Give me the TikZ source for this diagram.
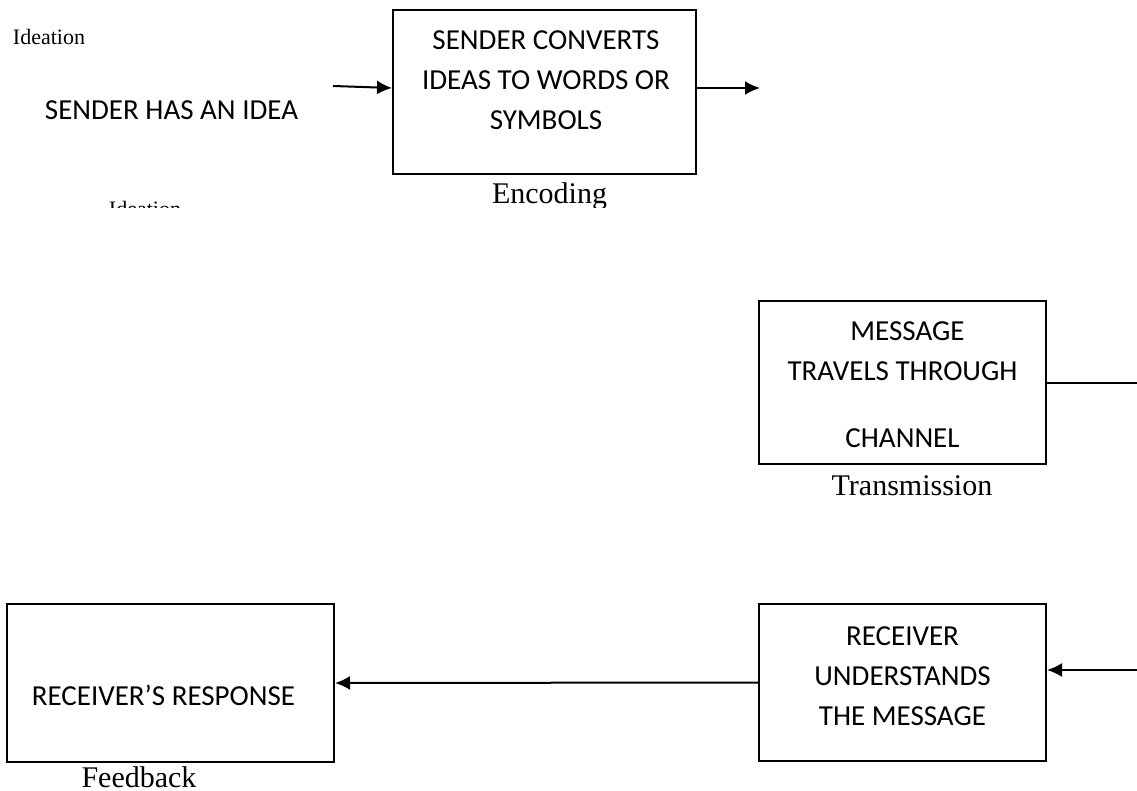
\documentclass[tikz,border=0pt]{standalone}
\usepackage{fontspec}
\setmainfont{Liberation Serif}
\newfontfamily\capsfont{Carlito}
\usetikzlibrary{arrows.meta, calc}

\begin{document}
\begin{tikzpicture} [
        x=1pt, y=-1pt,
        stage/.style={draw, line width=2pt, inner sep=0pt},
        stage text/.style={align=center, inner sep=0pt, font=\capsfont\fontsize{29}{40}\selectfont},
        stage label/.style={anchor=base, inner sep=0pt, font=\fontsize{30}{36}\selectfont},
        side label/.style={anchor=base, inner sep=0pt, font=\fontsize{22}{26}\selectfont},
        flow/.style={line width=2pt, -{Latex[length=15pt, width=14pt]}},
        link/.style={line width=2pt},
    ]

    \useasboundingbox (0,0) rectangle (1137,791);

    % sender side
    \path (49,45) node[side label] (ideation) {Ideation};
    \path (171.5,110) node[stage text] (idea) {SENDER HAS AN IDEA};

    \path (544.5,92) node[stage, minimum width=303pt, minimum height=164pt] (encode) {};
    \path ($ (encode.center) + (1.5,-12) $) node[stage text] (encode text) {SENDER CONVERTS\\IDEAS TO WORDS OR\\SYMBOLS};

    % labels cut off by their text frame
    \begin{scope}
        \clip (0,0) rectangle (1137,208);
        \path (549.5,204) node[stage label] (encoding) {Encoding};
        \path (145,216.5) node[side label] (ideation lower) {Ideation};
    \end{scope}

    \coordinate (idea out) at (333,86);
    \coordinate (encode out) at (760,88);
    \draw[flow] (idea out) -- ($ (encode.west) + (0,-4) $);
    \draw[flow] ($ (encode.east) + (0,-4) $) -- (encode out);

    % channel
    \path (902.5,382.5) node[stage, minimum width=287pt, minimum height=163pt] (channel) {};
    \path ($ (channel.center) + (0,2.5) $) node[stage text] (channel text) {\hspace*{10pt}MESSAGE\\TRAVELS THROUGH\\[27pt]CHANNEL};
    \path (912,495) node[stage label] (transmission) {Transmission};

    \coordinate (channel out) at (1137,382.5);
    \draw[link] (channel.east) -- (channel out);

    % receiver side
    \path (902.5,682.5) node[stage, minimum width=287pt, minimum height=157pt] (decode) {};
    \path ($ (decode.center) + (0,-6) $) node[stage text] (decode text) {RECEIVER\\UNDERSTANDS\\THE MESSAGE};

    \path (170.5,683) node[stage, minimum width=327pt, minimum height=158pt] (response) {};
    \path ($ (response.center) + (-7,12) $) node[stage text] (response text) {RECEIVER’S RESPONSE};
    \path (139,787) node[stage label] (feedback) {Feedback};

    \coordinate (decode in) at (1137,670);
    \draw[flow] (decode in) -- ($ (decode.east) + (0,-12.5) $);
    \draw[flow] (decode.west) -- (response.east);

\end{tikzpicture}
\end{document}
